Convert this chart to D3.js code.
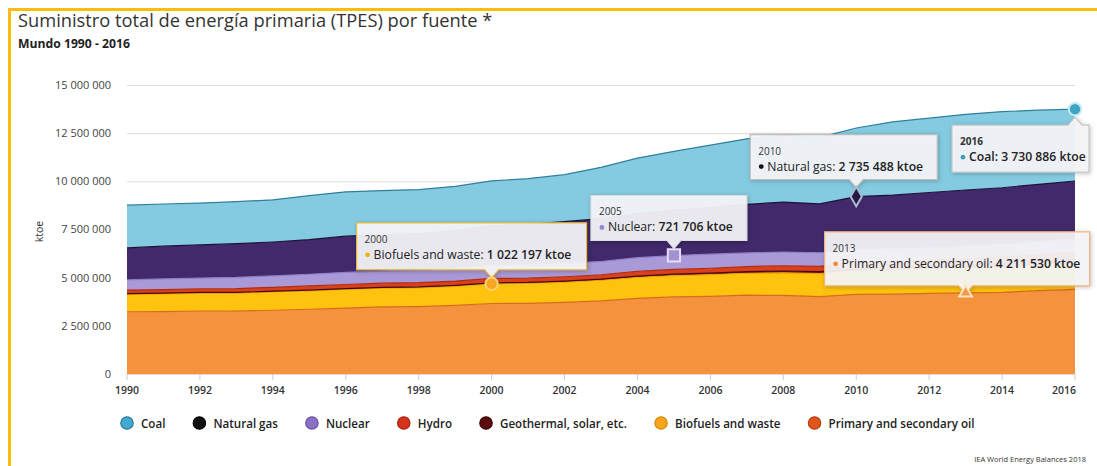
<!DOCTYPE html>
<html>
<head>
<meta charset="utf-8">
<script src="https://cdn.jsdelivr.net/npm/d3@7/dist/d3.min.js"></script>
<style>
  body { margin: 0; background: #fff; }
  svg { display: block; font-family: "Open Sans", sans-serif; }
</style>
</head>
<body>
<svg id="chart" width="1097" height="466"></svg>
<script>
// === Data (ktoe) ===
const years = [1990, 1991, 1992, 1993, 1994, 1995, 1996, 1997, 1998, 1999, 2000, 2001, 2002, 2003,
               2004, 2005, 2006, 2007, 2008, 2009, 2010, 2011, 2012, 2013, 2014, 2015, 2016];

const oil = [3232000, 3240000, 3270000, 3260000, 3310000, 3360000, 3420000, 3480000, 3500000, 3560000,
             3660000, 3670000, 3720000, 3800000, 3930000, 4000000, 4030000, 4090000, 4080000, 4020000,
             4130000, 4150000, 4180000, 4211530, 4240000, 4330000, 4390000];
const biofuels = [904000, 915000, 925000, 935000, 945000, 955000, 965000, 970000, 975000, 990000,
                  1022197, 1030000, 1045000, 1065000, 1090000, 1110000, 1125000, 1140000, 1170000, 1190000,
                  1210000, 1240000, 1260000, 1285000, 1300000, 1310000, 1330000];
const geothermal = [37000, 39000, 40000, 41000, 42000, 43000, 45000, 47000, 49000, 51000,
                    52000, 54000, 57000, 60000, 64000, 69000, 76000, 84000, 95000, 105000,
                    119000, 135000, 152000, 171000, 189000, 207000, 226000];
const hydro = [184000, 189000, 190000, 200000, 204000, 212000, 216000, 219000, 222000, 224000,
               225000, 221000, 225000, 226000, 240000, 251000, 259000, 262000, 274000, 276000,
               296000, 300000, 316000, 326000, 336000, 336000, 350000];
const nuclear = [526000, 551000, 555000, 576000, 591000, 608000, 630000, 624000, 637000, 660000,
                 676000, 692000, 697000, 687000, 714000, 721706, 728000, 709000, 712000, 703000,
                 719000, 674000, 642000, 646000, 662000, 670000, 680000];
const naturalGas = [1660000, 1700000, 1720000, 1750000, 1760000, 1800000, 1880000, 1880000, 1910000, 1960000,
                    2070000, 2100000, 2160000, 2230000, 2300000, 2360000, 2420000, 2520000, 2590000, 2540000,
                    2735488, 2790000, 2870000, 2910000, 2940000, 2990000, 3040000];
const coal = [2220000, 2190000, 2170000, 2180000, 2190000, 2280000, 2300000, 2300000, 2280000, 2290000,
              2320000, 2370000, 2440000, 2660000, 2870000, 3040000, 3240000, 3400000, 3470000, 3450000,
              3560000, 3800000, 3860000, 3930000, 3950000, 3850000, 3730886];

const yTicks = [0, 2500000, 5000000, 7500000, 10000000, 12500000, 15000000];
const xTicks = [1990, 1992, 1994, 1996, 1998, 2000, 2002, 2004, 2006, 2008, 2010, 2012, 2014, 2016];

// stack order bottom -> top
const series = [
  { key: "oil",        label: "Primary and secondary oil", values: oil,        fill: "#f5923d", line: "#d96b1c", dot: "#e0561b", dotStroke: "#b53f10" },
  { key: "biofuels",   label: "Biofuels and waste",        values: biofuels,   fill: "#fdc30e", line: "#eba40a", dot: "#f5a41c", dotStroke: "#d98a0c" },
  { key: "geothermal", label: "Geothermal, solar, etc.",   values: geothermal, fill: "#6e1418", line: "#4a0a0c", dot: "#5e0b10", dotStroke: "#3a0507" },
  { key: "hydro",      label: "Hydro",                     values: hydro,      fill: "#d9411d", line: "#b02c10", dot: "#d6331b", dotStroke: "#a82210" },
  { key: "nuclear",    label: "Nuclear",                   values: nuclear,    fill: "#a99ad7", line: "#8d7ec4", dot: "#8c70c4", dotStroke: "#6a4fa6" },
  { key: "naturalGas", label: "Natural gas",               values: naturalGas, fill: "#41296b", line: "#1d1237", dot: "#111111", dotStroke: "#000000" },
  { key: "coal",       label: "Coal",                      values: coal,       fill: "#84cbe1", line: "#2f7f9d", dot: "#43a9cf", dotStroke: "#2a7a9a" }
];

// highlighted points (tooltips)
const notes = [
  { key: "biofuels",   year: 2000, label: "Biofuels and waste", shape: d3.symbolCircle,   size: 120, mFill: "#f5a623", mStroke: "#fdd46c", border: "#e8b83e", dx: -135, dy: -61, w: 230, h: 47, up: false, dotc: "#efb20f" },
  { key: "nuclear",    year: 2005, label: "Nuclear",            shape: d3.symbolSquare,   size: 150, mFill: "#a392d2", mStroke: "#e6def8", border: "#dcdcdc", dx: -83,  dy: -60, w: 156, h: 45, up: false, dotc: "#9a86cf" },
  { key: "naturalGas", year: 2010, label: "Natural gas",        shape: d3.symbolDiamond,  size: 110, mFill: "#261a45", mStroke: "#a9bcd2", border: "#bdbdbd", dx: -106, dy: -62, w: 187, h: 45, up: false, dotc: "#111" },
  { key: "oil",        year: 2013, label: "Primary and secondary oil", shape: d3.symbolTriangle, size: 70, mFill: "#f29a45", mStroke: "#fde2c0", border: "#f1b57e", dx: -141, dy: -61, w: 265, h: 54, up: false, dotc: "#ee8a3a" },
  { key: "coal",       year: 2016, label: "Coal",               shape: d3.symbolCircle,   size: 120, mFill: "#3fa3c4", mStroke: "#c3e8f4", border: "#c8c8c8", dx: -123, dy: 16,  w: 137, h: 47, up: true,  dotc: "#3aa0bf" }
];

// === Setup ===
const svg = d3.select("#chart");
const x = d3.scaleLinear().domain([1990, 2016]).range([127, 1075]);
const y = d3.scaleLinear().domain([0, 15000000]).range([374, 85]);
const fmt = v => d3.format(",")(v).replace(/,/g, " ");

// frame
svg.append("rect").attr("x", 8).attr("y", 8).attr("width", 1089).attr("height", 3).attr("fill", "#fbbd0b");
svg.append("rect").attr("x", 8).attr("y", 8).attr("width", 3).attr("height", 458).attr("fill", "#fbbd0b");

// titles
svg.append("text").attr("x", 18).attr("y", 27)
  .attr("font-size", 18.3).attr("fill", "#333")
  .text("Suministro total de energía primaria (TPES) por fuente *");
svg.append("text").attr("x", 18).attr("y", 48)
  .attr("font-size", 12.2).attr("font-weight", 700).attr("fill", "#222")
  .text("Mundo 1990 - 2016");

// grid + y labels
const g = svg.append("g");
g.selectAll(".grid").data(yTicks).join("line")
  .attr("class", "grid")
  .attr("x1", x(1990)).attr("x2", x(2016))
  .attr("y1", d => y(d) + 0.5).attr("y2", d => y(d) + 0.5)
  .attr("stroke", "#dcdcdc").attr("stroke-width", 1);
g.selectAll(".ylbl").data(yTicks).join("text")
  .attr("class", "ylbl")
  .attr("x", 111).attr("y", d => y(d)).attr("dy", "0.35em")
  .attr("text-anchor", "end").attr("font-size", 11).attr("fill", "#444")
  .text(fmt);
svg.append("text")
  .attr("transform", `translate(43,${(y(0) + y(15000000)) / 2 + 2}) rotate(-90)`)
  .attr("text-anchor", "middle").attr("font-size", 10.5).attr("fill", "#333")
  .text("ktoe");

// stacked areas
const table = years.map((yr, i) => {
  const row = { year: yr };
  series.forEach(s => row[s.key] = s.values[i]);
  return row;
});
const stack = d3.stack().keys(series.map(s => s.key));
const layers = stack(table);

const area = d3.area().x(d => x(d.data.year)).y0(d => y(d[0])).y1(d => y(d[1]));
const topLine = d3.line().x(d => x(d.data.year)).y(d => y(d[1]));

g.selectAll(".layer").data(layers).join("path")
  .attr("class", "layer")
  .attr("fill", (d, i) => series[i].fill)
  .attr("d", area);
g.selectAll(".edge").data(layers).join("path")
  .attr("class", "edge")
  .attr("fill", "none")
  .attr("stroke", (d, i) => series[i].line)
  .attr("stroke-width", 1.2)
  .attr("d", topLine);

// x axis ticks + labels
g.selectAll(".xtick").data(xTicks).join("line")
  .attr("class", "xtick")
  .attr("x1", d => x(d)).attr("x2", d => x(d))
  .attr("y1", y(0)).attr("y2", y(0) + 6)
  .attr("stroke", "#ccc");
g.selectAll(".xlbl").data(xTicks).join("text")
  .attr("class", "xlbl")
  .attr("x", d => d === 2016 ? x(d) + 1 : x(d)).attr("y", 394)
  .attr("text-anchor", d => d === 2016 ? "end" : "middle")
  .attr("font-size", 10.5).attr("font-weight", 600).attr("fill", "#333")
  .text(d => d);

// tooltips
const layerByKey = new Map(layers.map(l => [l.key, l]));
notes.forEach(n => {
  const idx = years.indexOf(n.year);
  const pt = layerByKey.get(n.key)[idx];
  const mx = x(n.year), my = y(pt[1]);
  const l = mx + n.dx, t = my + n.dy, r = l + n.w, b = t + n.h;
  const tg = svg.append("g");

  const p = n.up
    ? `M${l},${t}H${mx - 7}L${mx},${t - 8}L${mx + 7},${t}H${r}V${b}H${l}Z`
    : `M${l},${t}H${r}V${b}H${mx + 7}L${mx},${b + 8}L${mx - 7},${b}H${l}Z`;
  tg.append("path").attr("d", p)
    .attr("fill", "rgba(247,247,250,0.93)")
    .attr("stroke", n.border).attr("stroke-width", 1.2)
    .style("filter", "drop-shadow(1px 1px 2px rgba(0,0,0,0.25))");

  tg.append("text").attr("x", l + 8).attr("y", t + 20)
    .attr("font-size", 10).attr("fill", "#333")
    .attr("font-weight", n.up ? 700 : 400)
    .text(n.year);
  tg.append("circle").attr("cx", l + 11).attr("cy", t + 32).attr("r", 2.4).attr("fill", n.dotc);
  const tx = tg.append("text").attr("x", l + 17).attr("y", t + 36)
    .attr("font-size", 12.2).attr("fill", "#222");
  tx.append("tspan").attr("font-weight", n.up ? 600 : 400).text(n.label + ": ");
  tx.append("tspan").attr("font-weight", 600).text(fmt(series.find(s => s.key === n.key).values[idx]) + " ktoe");

  svg.append("path")
    .attr("transform", `translate(${mx},${my})`)
    .attr("d", d3.symbol().type(n.shape).size(n.size)())
    .attr("fill", n.mFill).attr("stroke", n.mStroke).attr("stroke-width", 2);
});

// legend (top layer first)
const legendItems = series.slice().reverse();
let lx = 127;
const lg = svg.append("g");
legendItems.forEach(s => {
  lg.append("circle").attr("cx", lx).attr("cy", 423).attr("r", 6.2)
    .attr("fill", s.dot).attr("stroke", s.dotStroke).attr("stroke-width", 1.2);
  const t = lg.append("text").attr("x", lx + 14).attr("y", 427.5)
    .attr("font-size", 11.6).attr("font-weight", 600).attr("fill", "#222")
    .text(s.label);
  lx += 14 + t.node().getComputedTextLength() + 34;
});

// source
svg.append("text").attr("x", 1086).attr("y", 462)
  .attr("text-anchor", "end").attr("font-size", 7.5).attr("fill", "#333")
  .text("IEA World Energy Balances 2018");
</script>
</body>
</html>
